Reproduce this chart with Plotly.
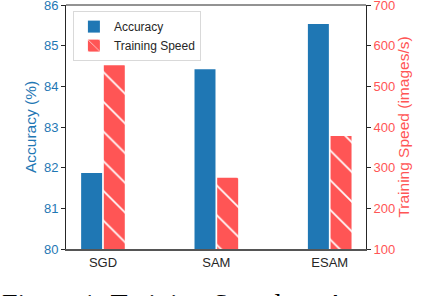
import plotly.graph_objects as go

categories = ["SGD", "SAM", "ESAM"]
accuracy = [81.87, 84.42, 85.53]
speed = [552, 275, 378]
acc_ticks = [80, 81, 82, 83, 84, 85, 86]
speed_ticks = [100, 200, 300, 400, 500, 600, 700]

BLUE = "#1f77b4"
RED = "#ff5555"
FONT = "Liberation Sans, Arial, sans-serif"

fig = go.Figure()
fig.add_trace(go.Bar(
    x=categories, y=[a - 80 for a in accuracy], base=80, name="Accuracy",
    marker=dict(color=BLUE, line=dict(width=0)),
    width=0.185, offset=-0.1925, yaxis="y",
))
fig.add_trace(go.Bar(
    x=categories, y=[s - 100 for s in speed], base=100, name="Training Speed",
    marker=dict(color=RED, line=dict(width=0),
                pattern=dict(shape="\\", fgcolor="white", bgcolor=RED, size=21, solidity=0.08)),
    width=0.185, offset=0.0075, yaxis="y2",
))

fig.update_layout(
    template="none",
    width=440, height=296,
    margin=dict(l=66, r=74, t=5, b=47, autoexpand=False),
    paper_bgcolor="white", plot_bgcolor="white",
    font=dict(family=FONT, size=13, color="#262626"),
    showlegend=True,
    legend=dict(x=0.023, y=0.975, xanchor="left", yanchor="top",
                bgcolor="rgba(255,255,255,0.8)", bordercolor="#d9d9d9", borderwidth=1,
                font=dict(size=12, color="#262626"), tracegroupgap=2,
                itemwidth=30),
    xaxis=dict(range=[-0.326, 2.32], showgrid=False, showline=True, linecolor="#555555",
               linewidth=2, mirror=False, ticks="", tickfont=dict(size=13, color="#262626"),
               automargin=False, fixedrange=True),
    yaxis=dict(range=[80, 86], tickvals=acc_ticks, showgrid=False, zeroline=False,
               showline=True, linecolor="#262626", linewidth=1, ticks="outside", ticklen=4,
               tickcolor="#262626", tickfont=dict(size=13, color=BLUE), automargin=False,
               ticklabeloverflow="allow", fixedrange=True,
               title=dict(text="Accuracy (%)", font=dict(size=15.5, color=BLUE), standoff=3)),
    yaxis2=dict(range=[100, 700], tickvals=speed_ticks, overlaying="y", side="right",
                showgrid=False, zeroline=False, showline=True, linecolor="#262626",
                linewidth=1, ticks="outside", ticklen=4, tickcolor="#262626",
                tickfont=dict(size=13, color=RED), automargin=False,
                ticklabeloverflow="allow", fixedrange=True,
                title=dict(text="Training Speed (images/s)", font=dict(size=15.5, color=RED), standoff=3)),
)
# top spine
fig.add_shape(type="line", xref="paper", yref="paper", x0=0, x1=1, y0=1, y1=1,
              line=dict(color="#262626", width=1))

fig.add_annotation(text="Figure 1: Training Speed vs. Accuracy of SGD, SAM and ESAM",
                   xref="paper", yref="paper", x=-0.22, y=-0.153, xanchor="left", yanchor="top",
                   showarrow=False, font=dict(family="Liberation Serif, Times New Roman, serif",
                                              size=28, color="black"))

fig.write_html("out.html", config={"displayModeBar": False, "staticPlot": True},
               post_script="document.body.style.margin='0';")
